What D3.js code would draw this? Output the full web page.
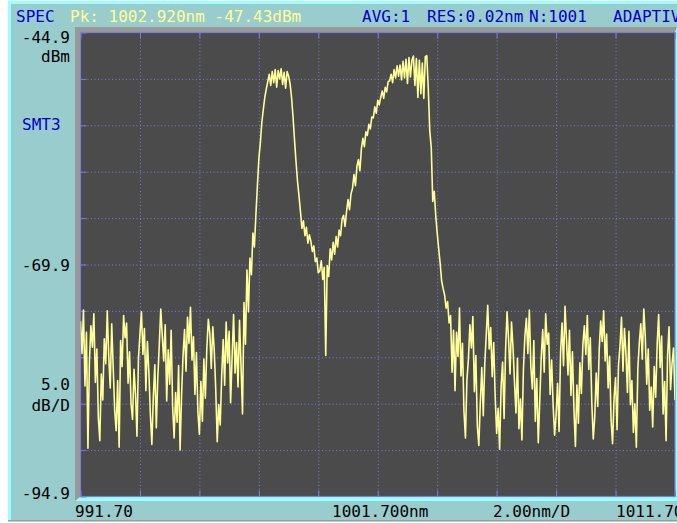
<!DOCTYPE html>
<html>
<head>
<meta charset="utf-8">
<script src="https://cdn.jsdelivr.net/npm/d3@7"></script>
<style>
  body { margin: 0; background: #fff; }
  svg text { font-family: "DejaVu Sans Mono", monospace; font-size: 16px; }
</style>
</head>
<body>
<div class="chart"></div>
<script>
// OSA screen: spectrum 991.70 - 1011.70 nm, 0.05 nm sample step
var startNm = 991.70;
var stopNm = 1011.70;
var stepNm = 0.05;
var refLevel = -44.9;
var bottomLevel = -94.9;

var powerDbm = [
  // noise floor, left side
  -76.0,-79.5,-74.8,-83.0,-77.2,-89.7,-80.4,-76.5,-78.8,-75.2,-82.6,-79.0,-86.4,-88.9,-81.7,-84.5,-77.9,-80.6,-74.9,-79.8,
  -83.2,-76.3,-81.0,-85.6,-87.8,-82.4,-89.6,-78.1,-80.9,-75.4,-77.8,-76.2,-82.7,-79.3,-84.9,-86.6,-81.2,-83.8,-88.4,-80.0,
  -77.4,-75.0,-79.6,-76.8,-83.5,-78.2,-81.5,-86.0,-89.3,-84.2,-80.7,-87.5,-82.1,-78.6,-74.7,-77.5,-80.3,-76.4,-84.6,-79.1,
  -82.8,-77.0,-85.3,-88.6,-83.7,-86.9,-80.8,-89.9,-84.0,-79.7,-76.9,-81.4,-75.6,-78.4,-74.5,-80.2,-77.7,-83.9,-79.4,-85.8,
  -88.2,-82.5,-86.8,-80.1,-84.3,-78.9,-75.8,-77.3,-81.1,-76.6,-79.2,-83.4,-89.0,-85.0,-87.2,-81.9,-78.0,-82.9,-76.1,-80.5,
  -77.1,-84.8,-79.9,-75.3,-81.6,-78.3,-83.1,-75.9,
  // first peak
  -80.8,-86.0,-74.0,-78.5,-70.5,-75.0,-69.2,-71.0,-66.5,-68.0,-64.6,-61.5,-58.5,-56.8,-54.6,-53.2,-51.9,-51.0,
  -50.2,-49.4,-50.6,-49.1,-50.3,-48.9,-50.8,-49.0,-49.9,-48.8,-50.5,-49.2,-50.9,-49.1,-49.6,-50.4,
  -51.9,-54.0,-56.5,-58.8,-60.9,-62.5,-64.2,-66.0,-65.2,-66.8,-65.9,-67.6,-66.7,-67.4,-68.5,-67.9,-69.6,-69.2,-70.8,-70.6,
  -69.5,-71.5,-70.2,-79.7,
  // second peak
  -70.0,-71.2,-68.2,-69.4,-67.5,-68.8,-66.9,-68.0,-66.2,-66.8,-65.0,-64.6,-65.8,-64.2,-62.9,-64.0,-62.3,-61.7,-60.2,-61.4,
  -59.3,-58.6,-59.8,-57.4,-56.3,-57.2,-55.6,-56.0,-54.8,-55.3,-54.0,-54.1,-52.9,-53.6,-52.2,-52.7,-51.9,-51.2,-52.0,-50.8,
  -51.3,-50.2,-50.1,-49.4,-50.3,-48.9,-49.8,-48.5,-49.6,-48.4,-50.0,-48.0,-49.8,-47.8,-50.4,-47.6,-49.7,-47.9,-47.43,
  -50.6,-47.7,-51.9,-47.9,-51.5,-48.2,-52.0,-47.5,-47.4,-51.0,
  -55.5,-57.3,-63.1,-62.0,-64.6,-66.5,-68.2,-69.8,-71.7,-72.5,-73.2,-74.6,-73.9,-76.2,-75.4,-81.5,-77.0,
  // noise floor, right side
  -83.5,-77.2,-79.8,-74.6,-81.9,-78.4,-85.7,-88.6,-82.3,-80.1,-76.4,-78.9,-75.5,-83.6,-79.7,-87.3,-89.4,-84.8,-81.0,-86.2,
  -80.6,-77.5,-74.3,-79.0,-76.7,-82.0,-78.3,-84.1,-88.1,-85.4,-89.8,-83.0,-80.4,-86.5,-79.2,-75.0,-77.9,-81.7,-76.1,-78.8,
  -82.6,-85.9,-80.0,-87.6,-84.4,-88.8,-81.3,-77.6,-75.7,-79.5,-74.8,-80.9,-83.3,-78.1,-86.8,-82.2,-89.1,-84.6,-79.9,-76.9,
  -81.5,-75.2,-78.5,-77.3,-83.9,-80.2,-85.1,-88.3,-86.1,-82.7,-87.9,-79.4,-76.2,-80.8,-74.4,-78.0,-81.8,-77.0,-84.0,-79.3,
  -85.5,-89.5,-82.9,-87.0,-80.5,-83.8,-78.6,-76.5,-79.6,-75.4,-81.2,-77.8,-84.7,-88.7,-86.3,-81.6,-85.2,-79.1,-76.0,-78.2,
  -74.9,-80.3,-77.4,-83.2,-79.8,-86.7,-89.2,-84.3,-82.1,-87.7,-80.7,-78.7,-75.6,-81.4,-76.8,-79.5,-83.7,-77.1,-85.0,-82.4,
  -88.0,-84.9,-89.6,-81.1,-78.3,-76.3,-80.1,-74.7,-77.7,-82.8,-79.0,-85.6,-83.1,-87.4,-80.9,-84.2,-78.5,-75.3,-81.0,-77.6,
  -86.0,-82.5,-88.9,-79.7,-76.6,-83.4,-80.6,-78.9,-84.5
];

var headerLeft = [
  { text: "SPEC", x: 16, color: "#0000cc" },
  { text: "Pk: 1002.920nm -47.43dBm", x: 70, color: "#ffff99" }
];
var headerRight = [
  { text: "AVG:1", x: 362 },
  { text: "RES:0.02nm", x: 427 },
  { text: "N:1001", x: 529 },
  { text: "ADAPTIVE", x: 613 }
];
var xLabels = ["991.70", "1001.700nm", "2.00nm/D", "1011.70"];
var yLabels = ["-44.9", "dBm", "-69.9", "5.0", "dB/D", "-94.9"];

var svgWidth = 677;
var svgHeight = 523;
var plot = { left: 80.5, right: 675, top: 32.5, bottom: 496.5 };

var svg = d3.select(".chart")
    .append("svg")
    .attr("width", svgWidth)
    .attr("height", svgHeight);

// panel + bevels
svg.append("rect").attr("width", svgWidth).attr("height", svgHeight).attr("fill", "#ffffff");
svg.append("rect").attr("x", 8).attr("y", 1).attr("width", 669).attr("height", 520).attr("fill", "#99ffff");
svg.append("rect").attr("x", 11).attr("y", 4).attr("width", 666).attr("height", 516).attr("fill", "#99cccc");
svg.append("rect").attr("x", 8).attr("y", 520).attr("width", 669).attr("height", 1.5).attr("fill", "#999999");

// plot frame: gray top/left, cyan bottom/right
svg.append("rect").attr("x", 75).attr("y", 27).attr("width", 602).attr("height", 474).attr("fill", "#99ffff");
svg.append("path")
    .attr("d", "M75,27 L677,27 L675,32 L80,32 L80,497 L75,501 Z")
    .attr("fill", "#999999");
svg.append("rect")
    .attr("x", plot.left).attr("y", plot.top)
    .attr("width", plot.right - plot.left).attr("height", plot.bottom - plot.top)
    .attr("fill", "#4b4b4b");

var x = d3.scaleLinear().domain([startNm, stopNm]).range([plot.left, plot.right]);
var y = d3.scaleLinear().domain([bottomLevel, refLevel]).range([plot.bottom, plot.top]);

var xTicks = d3.range(0, 11).map(function(k) { return startNm + 2 * k; });
var yTicks = d3.range(0, 11).map(function(k) { return bottomLevel + 5 * k; });
var gridColor = "#7c7ce0";

// dotted grid
var xGrid = svg.append("g")
    .attr("transform", "translate(0," + plot.bottom + ")")
    .call(d3.axisBottom(x).tickValues(xTicks.slice(1, 10)).tickSize(-(plot.bottom - plot.top)).tickFormat(""));
var yGrid = svg.append("g")
    .attr("transform", "translate(" + plot.left + ",0)")
    .call(d3.axisLeft(y).tickValues(yTicks.slice(1, 10)).tickSize(-(plot.right - plot.left)).tickFormat(""));
[xGrid, yGrid].forEach(function(g) {
    g.select(".domain").remove();
    g.selectAll("line").attr("stroke", gridColor).attr("stroke-dasharray", "1,2.5");
});

// short solid ticks on the edges
svg.append("g").attr("transform", "translate(0," + plot.bottom + ")")
    .call(d3.axisBottom(x).tickValues(xTicks).tickSize(-6).tickFormat(""))
    .call(function(g) { g.select(".domain").remove(); g.selectAll("line").attr("stroke", gridColor); });
svg.append("g").attr("transform", "translate(0," + plot.top + ")")
    .call(d3.axisTop(x).tickValues(xTicks).tickSize(-6).tickFormat(""))
    .call(function(g) { g.select(".domain").remove(); g.selectAll("line").attr("stroke", gridColor); });
svg.append("g").attr("transform", "translate(" + plot.left + ",0)")
    .call(d3.axisLeft(y).tickValues(yTicks).tickSize(-6).tickFormat(""))
    .call(function(g) { g.select(".domain").remove(); g.selectAll("line").attr("stroke", gridColor); });

svg.append("rect")
    .attr("x", plot.left).attr("y", plot.top)
    .attr("width", plot.right - plot.left).attr("height", plot.bottom - plot.top)
    .attr("fill", "none").attr("stroke", gridColor).attr("stroke-width", 1.2);

// trace
svg.append("clipPath").attr("id", "clip")
    .append("rect")
    .attr("x", plot.left).attr("y", plot.top)
    .attr("width", plot.right - plot.left).attr("height", plot.bottom - plot.top);

var line = d3.line()
    .x(function(d, i) { return x(startNm + i * stepNm); })
    .y(function(d) { return y(d); });

svg.append("path")
    .datum(powerDbm)
    .attr("clip-path", "url(#clip)")
    .attr("d", line)
    .attr("fill", "none")
    .attr("stroke", "#ffff99")
    .attr("stroke-width", 1.6)
    .attr("stroke-linejoin", "round");

// header texts
svg.selectAll(".hl").data(headerLeft).enter()
    .append("text")
    .attr("x", d => d.x).attr("y", 22)
    .attr("fill", d => d.color)
    .text(d => d.text);
svg.selectAll(".hr").data(headerRight).enter()
    .append("text")
    .attr("x", d => d.x).attr("y", 22)
    .attr("fill", "#0000cc")
    .text(d => d.text);

// left labels
var yLabelPos = [y(refLevel) + 10, 62, y(-69.9) + 6, 390, 411, y(bottomLevel) + 2.5];
svg.selectAll(".yl").data(yLabels).enter()
    .append("text")
    .attr("x", 70)
    .attr("y", (d, i) => yLabelPos[i])
    .attr("text-anchor", "end")
    .attr("fill", "#000")
    .text(d => d);

svg.append("text")
    .attr("x", 22).attr("y", 130)
    .attr("fill", "#0000cc")
    .text("SMT3");

// bottom labels
var xLabelPos = [75, 332, 493, 616];
svg.selectAll(".xl").data(xLabels).enter()
    .append("text")
    .attr("x", (d, i) => xLabelPos[i])
    .attr("y", 517)
    .attr("fill", "#000")
    .text(d => d);
</script>
</body>
</html>
